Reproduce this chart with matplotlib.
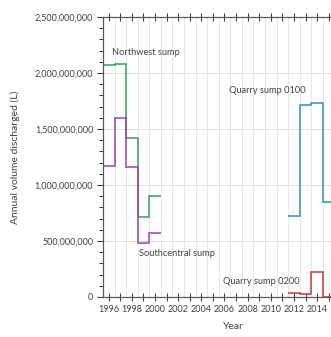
import matplotlib.pyplot as plt
import matplotlib.ticker as mticker
import numpy as np

plt.rcParams['font.family'] = ['Lato', 'DejaVu Sans']

# annual volumes (L), one value per year
nw_years = [1996, 1997, 1998, 1999, 2000]
nw_vol = [2.075e9, 2.08e9, 1.42e9, 0.715e9, 0.905e9]

sc_years = [1996, 1997, 1998, 1999, 2000]
sc_vol = [1.17e9, 1.60e9, 1.16e9, 0.48e9, 0.57e9]

q100_years = [2012, 2013, 2014, 2015]
q100_vol = [0.723e9, 1.715e9, 1.73e9, 0.848e9]

q200_years = [2012, 2013, 2014, 2015]
q200_vol = [0.038e9, 0.028e9, 0.225e9, 0.004e9]

def edges(years):
    y = np.array(years, dtype=float)
    return np.append(y - 0.5, y[-1] + 0.5)

fig = plt.figure(figsize=(3.31, 3.37), dpi=100)
ax = fig.add_axes([0.311, 0.1187, 0.689, 0.8309])

ax.stairs(nw_vol, edges(nw_years), baseline=None, color='#3a9d5d', lw=1.1)
ax.stairs(sc_vol, edges(sc_years), baseline=None, color='#9b3fb5', lw=1.1)
ax.stairs(q100_vol, edges(q100_years), baseline=None, color='#2f8fc4', lw=1.1)
ax.stairs(q200_vol, edges(q200_years), baseline=None, color='#c0393f', lw=1.1)

tc = '#404040'
ax.text(1996.25, 2.18e9, 'Northwest sump', fontsize=6.7, color=tc, va='center')
ax.text(1998.6, 0.39e9, 'Southcentral sump', fontsize=6.7, color=tc, va='center')
ax.text(2006.4, 1.84e9, 'Quarry sump 0100', fontsize=6.7, color=tc, va='center')
ax.text(2005.85, 0.134e9, 'Quarry sump 0200', fontsize=6.7, color=tc, va='center')

ax.set_xlim(1995.5, 2015.2)
ax.set_ylim(0, 2.5e9)

ax.xaxis.set_minor_locator(mticker.FixedLocator(np.arange(1996.5, 2016, 1)))
ax.set_xticks(np.arange(1996, 2016, 1))
ax.set_xticklabels([str(y) if y % 2 == 0 else '' for y in range(1996, 2016)])
ax.yaxis.set_major_locator(mticker.MultipleLocator(5e8))
ax.yaxis.set_minor_locator(mticker.MultipleLocator(1e8))
ax.yaxis.set_major_formatter(mticker.FuncFormatter(lambda v, p: f'{int(v):,}'))

ax.grid(True, which='minor', axis='x', color='#e3e3e3', lw=0.6)
ax.grid(True, which='major', axis='y', color='#d9d9d9', lw=0.6)
ax.set_axisbelow(True)

ax.tick_params(axis='x', which='major', direction='inout', length=6, width=0.8,
               color='#404040', labelsize=6.5, labelcolor=tc, pad=3, top=True)
ax.tick_params(axis='x', which='minor', length=0)
ax.tick_params(axis='y', which='both', direction='out', width=0.8, color='#404040',
               labelsize=6.5, labelcolor=tc, pad=3)
ax.tick_params(axis='y', which='major', length=4)
ax.tick_params(axis='y', which='minor', length=3)

for s in ['left', 'bottom', 'top']:
    ax.spines[s].set_color('#595959')
    ax.spines[s].set_linewidth(0.9)
ax.spines['right'].set_visible(False)

ax.set_xlabel('Year', fontsize=7.5, color=tc)
ax.xaxis.set_label_coords(0.57, -0.088)
ax.set_ylabel('Annual volume discharged (L)', fontsize=7.5, color=tc)
ax.yaxis.set_label_coords(-0.364, 0.5)

fig.savefig('out.png', dpi=100)
